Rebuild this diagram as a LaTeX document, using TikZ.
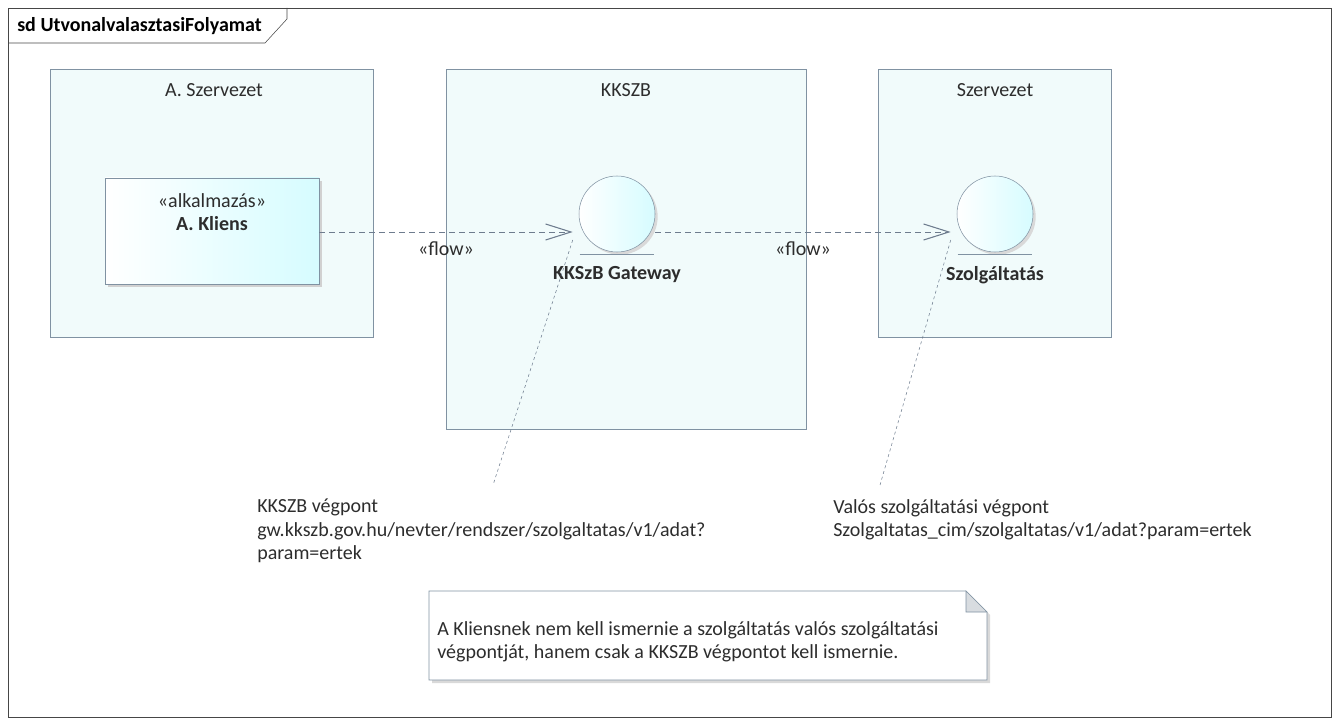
\documentclass[tikz,border=0pt]{standalone}
\usepackage{fontspec}
\setmainfont{Carlito}
\usetikzlibrary{arrows.meta,calc,positioning,shadows}
\definecolor{framegray}{RGB}{70,70,70}
\definecolor{boxline}{RGB}{128,146,162}
\definecolor{boxfill}{RGB}{241,251,251}
\definecolor{elemcyan}{RGB}{214,252,255}
\definecolor{linkgray}{RGB}{110,124,142}
\definecolor{textgray}{RGB}{45,45,45}
\definecolor{foldgray}{RGB}{216,220,224}

\begin{document}
\begin{tikzpicture}[x=0.75pt,y=-0.75pt,
  font=\fontsize{15}{17.5}\selectfont, text=textgray,
  container/.style={draw=boxline,fill=boxfill},
  boldtext/.style={font=\fontsize{15}{17.5}\selectfont\bfseries},
  kliensbox/.style={draw=boxline,left color=white,right color=elemcyan,
    minimum width=160.5pt,minimum height=79.5pt,inner sep=0pt,
    drop shadow={fill=black!18,opacity=1,shadow xshift=2.5pt,shadow yshift=-2.5pt}},
  endpoint/.style={circle,draw=boxline,left color=white,right color=elemcyan,
    minimum size=57pt,inner sep=0pt,
    drop shadow={fill=black!15,opacity=1,shadow xshift=2pt,shadow yshift=-2pt}},
  flow/.style={draw=linkgray,dash pattern=on 4.5pt off 3pt,
    -{Straight Barb[length=19pt,width=12pt,line width=0.8pt]}},
  link/.style={draw=linkgray,dash pattern=on 2.2pt off 2.2pt},
  flowlabel/.style={midway,below=4pt},
  urltext/.style={align=left,anchor=north west,inner sep=0pt}]
  \useasboundingbox (0,0) rectangle (1338,720);

  % frame
  \draw[framegray] (8,8) rectangle (1331,717);
  \draw[framegray] (8,43) -- (265,43) -- (287,19) -- (287,8);
  \node[anchor=west,boldtext,text=black,inner sep=0pt] (title) at (17,26) {sd UtvonalvalasztasiFolyamat};

  % containers
  \draw[container] (50,69) rectangle (373,337);
  \draw[container] (446,69) rectangle (806,429);
  \draw[container] (878,69) rectangle (1111,337);
  \node (szerva) at (214,90) {A. Szervezet};
  \node (kkszb) at (626,90) {KKSZB};
  \node (szerv) at (995,90) {Szervezet};

  % elements
  \node[kliensbox] (kliens) at (212,231) {};
  \node at (212,201) {«alkalmazás»};
  \node[boldtext] at (212,224) {A. Kliens};

  \node[endpoint] (gw) at (617,214) {};
  \node[endpoint] (svc) at (995,214) {};
  \draw[boxline,line width=1pt] ([shift={(-28pt,-1.5pt)}]gw.south) -- ([shift={(28pt,-1.5pt)}]gw.south);
  \draw[boxline,line width=1pt] ([shift={(-28pt,-1.5pt)}]svc.south) -- ([shift={(28pt,-1.5pt)}]svc.south);
  \node[boldtext] (gwlabel) at (617,275) {KKSzB Gateway};
  \node[boldtext] (svclabel) at (995,275) {Szolgáltatás};

  % flows
  \coordinate (flowy) at (0,232);
  \draw[flow] (kliens.east |- flowy) -- ([xshift=-4.5pt]gw.west |- flowy)
    node[flowlabel] {«flow»};
  \draw[flow] (gw.east |- flowy) -- ([xshift=-4.5pt]svc.west |- flowy)
    node[flowlabel] {«flow»};

  % endpoint texts
  \node[urltext] (gwtext) at (257,499) {KKSZB végpont\\gw.kkszb.gov.hu/nevter/rendszer/szolgaltatas/v1/adat?\\param=ertek};
  \node[urltext] (svctext) at (833,499) {Valós szolgáltatási végpont\\Szolgaltatas\_cim/szolgaltatas/v1/adat?param=ertek};
  \coordinate (gwend) at (493,485);
  \coordinate (svcend) at (880,485);
  \draw[link] ([shift={(-4.5pt,-19.5pt)}]gw.west) -- (gwend);
  \draw[link] ([shift={(-4.5pt,-19.5pt)}]svc.west) -- (svcend);

  % note
  \fill[black!15] (432,594) -- (969,594) -- (990,615) -- (990,683) -- (432,683) -- cycle;
  \draw[boxline,fill=white] (429,591) -- (966,591) -- (987,612) -- (987,680) -- (429,680) -- cycle;
  \draw[boxline,fill=foldgray] (966,591) -- (966,612) -- (987,612) -- cycle;
  \node[urltext] (note) at (437,621) {A Kliensnek nem kell ismernie a szolgáltatás valós szolgáltatási\\végpontját, hanem csak a KKSZB végpontot kell ismernie.};
\end{tikzpicture}
\end{document}
